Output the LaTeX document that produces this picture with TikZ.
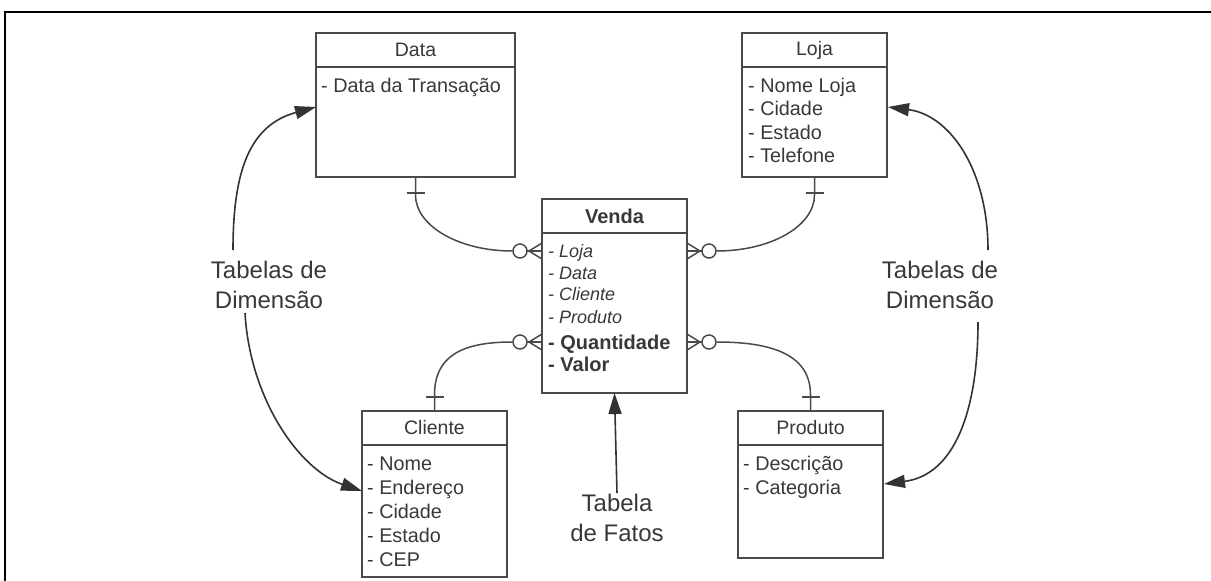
\documentclass[tikz,border=0pt]{standalone}
\usepackage{fontspec}
\setmainfont{Liberation Sans}
\usetikzlibrary{arrows.meta}
\definecolor{boxc}{HTML}{4A4A4A}
\definecolor{txt}{HTML}{383838}
\definecolor{arr}{HTML}{333333}
\begin{document}
\begin{tikzpicture}[x=1pt,y=-1pt,
  tbl/.style={draw=boxc, line width=1.5pt, anchor=north west, inner sep=0pt, outer sep=0pt},
  hdr/.style={draw=boxc, line width=1.5pt},
  ttl/.style={text=txt, font=\fontsize{19.5}{23}\selectfont, inner sep=0pt},
  ttlb/.style={text=txt, font=\fontsize{20}{23}\selectfont\bfseries, inner sep=0pt},
  itm/.style={text=txt, font=\fontsize{19.8}{23}\selectfont, anchor=base west, inner sep=0pt},
  itmi/.style={text=txt, font=\fontsize{18}{22}\selectfont\itshape, anchor=base west, inner sep=0pt},
  itmb/.style={text=txt, font=\fontsize{20}{23}\selectfont\bfseries, anchor=base west, inner sep=0pt},
  conn/.style={draw=boxc, line width=1.5pt},
  circ/.style={circle, draw=boxc, line width=1.5pt, minimum size=14pt, inner sep=0pt, fill=white},
  lbl/.style={text=txt, font=\fontsize{24}{30}\selectfont, align=center, inner sep=0pt},
  dimarrow/.style={draw=arr, line width=1.6pt, -{Triangle[length=21pt,width=13pt]}}
]
\useasboundingbox (0,0) rectangle (1211,581);
% frame
\draw[line width=2.2pt] (5,581) -- (5,12) -- (1211,12);

% tables
\node[tbl, minimum width=199pt, minimum height=144pt] (data) at (316,33) {};
\node[tbl, minimum width=145pt, minimum height=144pt] (loja) at (742,33) {};
\node[tbl, minimum width=145pt, minimum height=194pt] (venda) at (542,199) {};
\node[tbl, minimum width=145pt, minimum height=166pt] (cliente) at (362,411) {};
\node[tbl, minimum width=145pt, minimum height=147pt] (produto) at (738,411) {};

\foreach \n in {data,loja,venda,cliente,produto}
  \draw[hdr] ([yshift=-34pt]\n.north west) -- ([yshift=-34pt]\n.north east);

% titles
\node[ttl] (dataT) at ([yshift=-17pt]data.north) {Data};
\node[ttl] (lojaT) at ([yshift=-17pt]loja.north) {Loja};
\node[ttlb] (vendaT) at ([yshift=-17pt]venda.north) {Venda};
\node[ttl] (clienteT) at ([yshift=-17pt]cliente.north) {Cliente};
\node[ttl] (produtoT) at ([yshift=-17pt]produto.north) {Produto};

% attributes
\node[itm] (data1) at (321,92) {- Data da Transação};
\foreach \t [count=\i] in {Nome Loja, Cidade, Estado, Telefone}
  \node[itm] (loja\i) at (748,{92+23.5*(\i-1)}) {- \t};
\foreach \t [count=\i] in {Nome, Endereço, Cidade, Estado, CEP}
  \node[itm] (cliente\i) at (367,{470+24*(\i-1)}) {- \t};
\foreach \t [count=\i] in {Descrição, Categoria}
  \node[itm] (produto\i) at (743,{470+24*(\i-1)}) {- \t};
\node[itmi] (venda1) at (548,257.5) {- Loja};
\node[itmi] (venda2) at (548,279.5) {- Data};
\node[itmi] (venda3) at (548,300) {- Cliente};
\node[itmi] (venda4) at (548,323.5) {- Produto};
\node[itmb] (venda5) at (548,349) {- Quantidade};
\node[itmb] (venda6) at (548,371) {- Valor};

% crow's feet and circles on Venda
\coordinate (vL1) at (542,251);
\coordinate (vR1) at (687,251);
\coordinate (vL2) at (542,342);
\coordinate (vR2) at (687,342);
\foreach \c/\s in {vL1/-1, vL2/-1, vR1/1, vR2/1} {
  \draw[conn] ([yshift=8pt]\c) -- ([xshift=\s*13pt]\c) -- ([yshift=-8pt]\c);
  \draw[conn] (\c) -- ([xshift=\s*15pt]\c);
}
\node[circ] (cL1) at ([xshift=-22pt]vL1) {};
\node[circ] (cR1) at ([xshift=22pt]vR1) {};
\node[circ] (cL2) at ([xshift=-22pt]vL2) {};
\node[circ] (cR2) at ([xshift=22pt]vR2) {};

% relationship lines with "one" ticks
\coordinate (dataK) at ([yshift=-16pt]data.south);
\coordinate (lojaK) at ([yshift=-16pt]loja.south);
\coordinate (clienteK) at ([yshift=14pt]cliente.north);
\coordinate (produtoK) at ([yshift=14pt]produto.north);
\foreach \k in {dataK,lojaK,clienteK,produtoK}
  \draw[conn] ([xshift=-9pt]\k) -- ([xshift=9pt]\k);

\draw[conn] (data.south) -- (415.5,195) .. controls (415.5,226) and (459,251) .. (cL1.west);
\draw[conn] (loja.south) -- (814.5,195) .. controls (814.5,226) and (771,251) .. (cR1.east);
\draw[conn] (cliente.north) -- (434.5,395) .. controls (434.5,356) and (462,342) .. (cL2.west);
\draw[conn] (produto.north) -- (810.5,395) .. controls (810.5,356) and (775,342) .. (cR2.east);

% labels
\node[lbl] (dimL) at (269,285) {Tabelas de\\Dimensão};
\node[lbl] (dimR) at (940,285) {Tabelas de\\Dimensão};
\node[lbl] (fatos) at (617,518) {Tabela\\de Fatos};

\coordinate (dimLa) at (233,250);
\coordinate (dimLb) at (245,313);
\coordinate (dimRa) at (988,250);
\coordinate (dimRb) at (978,322);
\coordinate (fatosA) at (617,493);
\coordinate (dataIn) at (316,107);
\coordinate (clienteIn) at (362,491);
\coordinate (lojaIn) at (888,107);
\coordinate (produtoIn) at (884,484);

\draw[dimarrow] (dimLa) .. controls (233,170) and (250,125) .. (dataIn);
\draw[dimarrow] (dimLb) .. controls (250,400) and (300,470) .. (clienteIn);
\draw[dimarrow] (dimRa) .. controls (988,170) and (950,115) .. (lojaIn);
\draw[dimarrow] (dimRb) .. controls (978,410) and (955,475) .. (produtoIn);
\draw[dimarrow] (fatosA) -- (venda.south);
\end{tikzpicture}
\end{document}
